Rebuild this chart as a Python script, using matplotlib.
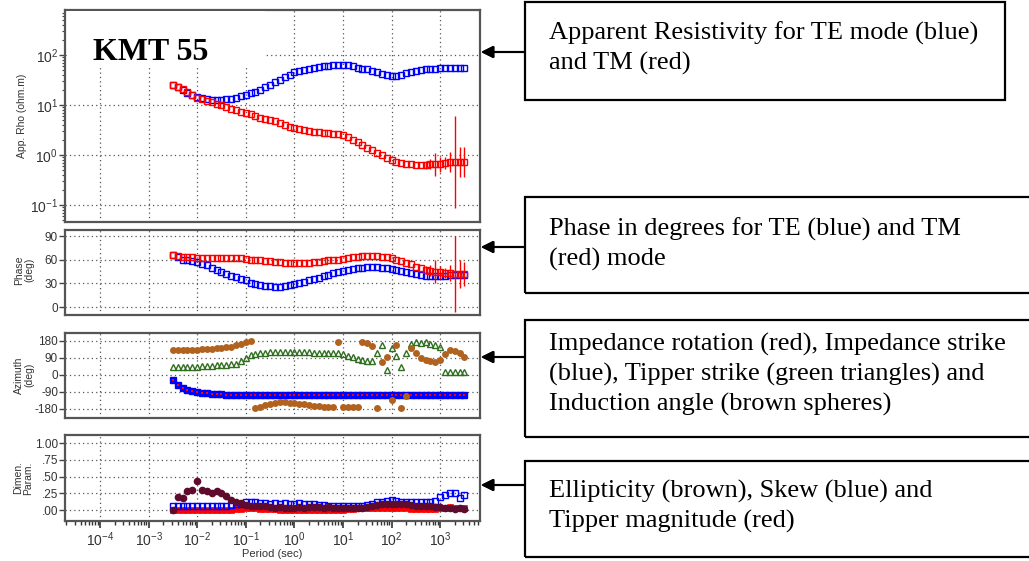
"""Magnetotelluric sounding KMT 55: rho, phase, azimuths and dimensionality parameters."""

import matplotlib.pyplot as plt
import numpy as np
from matplotlib.patches import Rectangle
from matplotlib.ticker import FixedLocator, FixedFormatter, LogLocator, NullFormatter

plt.rcParams["font.family"] = ["Liberation Sans", "DejaVu Sans"]
plt.rcParams["axes.unicode_minus"] = False

log_period = [
    -2.5, -2.4, -2.3, -2.2, -2.1, -2.0, -1.9, -1.8, -1.7, -1.6,
    -1.5, -1.4, -1.3, -1.2, -1.1, -1.0, -0.9, -0.8, -0.7, -0.6,
    -0.5, -0.4, -0.3, -0.2, -0.1, 0.0, 0.1, 0.2, 0.3, 0.4,
    0.5, 0.6, 0.7, 0.8, 0.9, 1.0, 1.1, 1.2, 1.3, 1.4,
    1.5, 1.6, 1.7, 1.8, 1.9, 2.0, 2.1, 2.2, 2.3, 2.4,
    2.5, 2.6, 2.7, 2.8, 2.9, 3.0, 3.1, 3.2, 3.3, 3.4, 3.5,
]
decades = [-4, -3, -2, -1, 0, 1, 2, 3]

rho_te = [
    25.1, 22.4, 19.5, 17.4, 15.8, 14.5, 13.8, 13.2, 12.6, 12.6,
    12.6, 12.9, 13.2, 13.8, 14.8, 15.8, 17.0, 18.6, 20.0, 22.4,
    25.1, 28.2, 31.6, 35.5, 40.7, 45.7, 47.9, 50.1, 52.5, 55.0,
    57.5, 58.9, 60.3, 61.7, 63.1, 63.1, 61.7, 58.9, 56.2, 53.7,
    51.3, 47.9, 44.7, 41.7, 39.8, 38.0, 38.9, 40.7, 42.7, 44.7,
    46.8, 49.0, 51.3, 52.5, 53.7, 55.0, 55.0, 55.0, 55.0, 55.0, 55.0,
]
rho_tm = [
    25.1, 22.9, 20.9, 18.6, 16.2, 14.1, 13.2, 12.3, 11.5, 10.7,
    10.0, 9.3, 8.5, 7.9, 7.4, 6.9, 6.5, 6.0, 5.6, 5.2,
    5.0, 4.7, 4.3, 4.0, 3.7, 3.5, 3.3, 3.2, 3.0, 2.95,
    2.9, 2.8, 2.75, 2.6, 2.6, 2.5, 2.3, 2.0, 1.8, 1.6,
    1.4, 1.26, 1.12, 1.0, 0.89, 0.79, 0.74, 0.69, 0.66, 0.65,
    0.63, 0.63, 0.63, 0.65, 0.66, 0.66, 0.68, 0.71, 0.72, 0.72, 0.72,
]
# TM error bars at the long periods (log10 half width of rho, degrees for phase)
err_log_period = [2.7, 2.8, 2.9, 3.0, 3.1, 3.2, 3.3, 3.4, 3.5]
rho_tm_err_dex = [0.08, 0.10, 0.23, 0.15, 0.12, 0.20, 0.92, 0.30, 0.30]
phase_tm_err = [5, 7, 15, 8, 6, 10, 48, 18, 15]

phase_te = [
    66, 63, 60, 59, 58, 57, 55, 53, 50, 47,
    44, 42, 40, 38, 36, 34, 31, 29, 28, 27,
    27, 26, 26, 27, 28, 29, 31, 32, 34, 36,
    37, 39, 41, 43, 45, 46, 47, 48, 49, 50,
    51, 51, 51, 50, 49, 48, 47, 46, 45, 43,
    42, 41, 40, 40, 40, 40, 40, 41, 41, 41, 41,
]
phase_tm = [
    66, 65, 64, 63, 63, 62, 62, 62, 62, 62,
    62, 62, 62, 62, 62, 61, 60, 59, 59, 58,
    58, 57, 57, 56, 56, 56, 56, 56, 56, 57,
    57, 58, 59, 60, 60, 61, 62, 63, 64, 65,
    65, 65, 65, 64, 63, 62, 60, 58, 56, 54,
    51, 49, 47, 46, 45, 44, 43, 43, 42, 42, 42,
]

imp_strike = [
    -26, -53, -69, -78, -84, -89, -93, -96, -99, -101,
    -103, -104, -105, -106, -106, -106, -106, -106, -106, -106,
    -106, -106, -106, -106, -106, -106, -106, -106, -106, -106,
    -106, -106, -106, -106, -106, -106, -106, -106, -106, -106,
    -106, -106, -106, -106, -106, -106, -106, -106, -106, -106,
    -106, -106, -106, -106, -106, -105, -105, -105, -105, -105, -105,
]
imp_rotation = [
    -26, -53, -69, -78, -84, -89, -93, -96, -99, -101,
    -103, -104, -105, -106, -106, -106, -106, -106, -106, -106,
    -106, -106, -106, -106, -106, -106, -106, -106, -106, -106,
    -106, -106, -106, -106, -106, -106, -106, -106, -106, -106,
    -106, -106, -106, -106, -106, -106, -106, -106, -106, -106,
    -106, -106, -106, -106, -106, -105, -105, -105, -105, -105, -105,
]
tipper_strike = [
    42, 42, 42, 43, 43, 44, 45, 46, 48, 50,
    52, 54, 56, 60, 75, 90, 104, 112, 114, 118,
    120, 121, 122, 122, 122, 122, 121, 120, 119, 118,
    117, 116, 116, 115, 114, 110, 102, 94, 86, 79,
    74, 72, 116, 159, 26, 143, 100, 42, 116, 165,
    172, 168, 172, 165, 160, 150, 16, 14, 16, 14, 14,
]
induction_angle = [
    132, 132, 132, 132, 133, 134, 135, 136, 138, 140,
    143, 146, 150, 158, 166, 172, 178, -176, -168, -160,
    -152, -146, -143, -144, -146, -148, -152, -156, -160, -164,
    -166, -168, -170, -170, 175, -170, -170, -171, -172, 175,
    168, 155, -175, 69, 95, -132, 159, -175, -111, 143,
    116, 90, 79, 72, 69, 79, 110, 132, 125, 116, 95,
]

ellipticity = [
    0.01, 0.19, 0.18, 0.28, 0.30, 0.43, 0.30, 0.28, 0.26, 0.28,
    0.26, 0.21, 0.16, 0.13, 0.11, 0.08, 0.07, 0.06, 0.07, 0.06,
    0.05, 0.04, 0.05, 0.04, 0.03, 0.04, 0.05, 0.04, 0.05, 0.05,
    0.05, 0.04, 0.05, 0.04, 0.04, 0.04, 0.03, 0.03, 0.04, 0.04,
    0.05, 0.07, 0.08, 0.09, 0.09, 0.10, 0.09, 0.10, 0.09, 0.08,
    0.07, 0.07, 0.06, 0.06, 0.05, 0.05, 0.04, 0.03, 0.02, 0.03, 0.02,
]
skew = [
    0.07, 0.07, 0.07, 0.07, 0.07, 0.07, 0.07, 0.07, 0.07, 0.07,
    0.07, 0.07, 0.08, 0.09, 0.10, 0.12, 0.13, 0.12, 0.11, 0.11,
    0.10, 0.11, 0.10, 0.11, 0.10, 0.10, 0.11, 0.10, 0.09, 0.09,
    0.08, 0.08, 0.07, 0.07, 0.06, 0.06, 0.06, 0.06, 0.07, 0.07,
    0.08, 0.10, 0.12, 0.13, 0.14, 0.15, 0.14, 0.13, 0.12, 0.12,
    0.12, 0.12, 0.13, 0.13, 0.14, 0.19, 0.23, 0.26, 0.25, 0.18, 0.22,
]
tipper_mag = [
    0.00, 0.00, 0.00, 0.00, 0.00, 0.00, 0.00, 0.00, 0.00, 0.00,
    0.00, 0.01, 0.01, 0.02, 0.02, 0.03, 0.03, 0.03, 0.02, 0.02,
    0.02, 0.02, 0.01, 0.01, 0.01, 0.01, 0.01, 0.01, 0.01, 0.01,
    0.01, 0.01, 0.01, 0.01, 0.01, 0.01, 0.02, 0.02, 0.03, 0.03,
    0.04, 0.04, 0.04, 0.04, 0.04, 0.04, 0.03, 0.03, 0.03, 0.02,
    0.02, 0.02, 0.02, 0.02, 0.02, 0.03, 0.04, 0.05, 0.03, 0.04, 0.04,
]

notes = [
    ["Apparent Resistivity for TE mode (blue)", "and TM (red)"],
    ["Phase in degrees for TE (blue) and TM", "(red) mode"],
    ["Impedance rotation (red), Impedance strike",
     "(blue), Tipper strike (green triangles) and",
     "Induction angle (brown spheres)"],
    ["Ellipticity (brown), Skew (blue) and", "Tipper magnitude (red)"],
]

# ---- layout (pixels of a 1029x561 canvas) ----
W, H = 1029, 561
BLUE, RED = "#0000ff", "#ff0000"
GREEN, BROWN, MAROON = "#2f6e1f", "#b0621e", "#5e0b2e"
GRID = dict(color="#555555", linestyle=(0, (1, 2.5)), linewidth=0.9)

fig = plt.figure(figsize=(W / 100, H / 100), dpi=100)


def px_axes(x0, y0, x1, y1):
    return fig.add_axes([x0 / W, 1 - y1 / H, (x1 - x0) / W, (y1 - y0) / H])


period = 10.0 ** np.array(log_period)
err_mask = np.isin(log_period, err_log_period)

ax1 = px_axes(65, 10, 480, 222)
ax2 = px_axes(65, 230, 480, 315)
ax3 = px_axes(65, 333, 480, 418)
ax4 = px_axes(65, 435, 480, 521)
axes = [ax1, ax2, ax3, ax4]

for ax in axes:
    ax.set_xscale("log")
    ax.set_xlim(10 ** -4.72, 10 ** 3.82)
    ax.xaxis.set_major_locator(FixedLocator(10.0 ** np.array(decades)))
    ax.xaxis.set_minor_locator(LogLocator(base=10, subs=np.arange(2, 10), numticks=20))
    ax.xaxis.set_minor_formatter(NullFormatter())
    ax.grid(True, which="major", **GRID)
    ax.set_axisbelow(True)
    for sp in ax.spines.values():
        sp.set_color("#555555")
        sp.set_linewidth(1.6)
    ax.tick_params(axis="y", which="major", direction="out", length=4, width=1,
                   color="#444444", labelsize=8.5, labelcolor="#333333", pad=1)
    ax.tick_params(axis="y", which="minor", direction="out", length=2, width=0.8,
                   color="#444444")
    if ax is not ax4:
        ax.tick_params(axis="x", which="both", length=0, labelbottom=False)

# panel 1: apparent resistivity
ax1.set_yscale("log")
ax1.set_ylim(10 ** -1.34, 10 ** 2.9)
ax1.yaxis.set_major_locator(LogLocator(base=10, numticks=10))
ax1.yaxis.set_minor_locator(LogLocator(base=10, subs=np.arange(2, 10), numticks=10))
ax1.yaxis.set_minor_formatter(NullFormatter())
ax1.tick_params(axis="y", which="major", labelsize=10)
ax1.plot(period, rho_te, ls="none", marker="s", ms=4, mfc="none", mec=BLUE, mew=1)
rho_c = np.array(rho_tm)[err_mask]
dex = np.array(rho_tm_err_dex)
ax1.errorbar(period[err_mask], rho_c,
             yerr=[rho_c - rho_c * 10 ** -dex, rho_c * 10 ** dex - rho_c],
             fmt="none", ecolor=RED, elinewidth=1, capsize=0)
ax1.plot(period, rho_tm, ls="none", marker="s", ms=4, mfc="none", mec=RED, mew=1)

ax1.add_patch(Rectangle((0.005, 0.726), 0.477, 0.27, transform=ax1.transAxes,
                        facecolor="white", edgecolor="none", zorder=5))
ax1.text(0.067, 0.764, "KMT 55", transform=ax1.transAxes, fontsize=23,
         fontweight="bold", family="Liberation Serif", va="baseline", zorder=6)

# panel 2: phase
ax2.set_ylim(-10, 97.6)
ax2.yaxis.set_major_locator(FixedLocator([0, 30, 60, 90]))
ax2.plot(period, phase_te, ls="none", marker="s", ms=4, mfc="none", mec=BLUE, mew=1)
ax2.errorbar(period[err_mask], np.array(phase_tm)[err_mask], yerr=phase_tm_err,
             fmt="none", ecolor=RED, elinewidth=1, capsize=0)
ax2.plot(period, phase_tm, ls="none", marker="s", ms=4, mfc="none", mec=RED, mew=1)

# panel 3: azimuths
ax3.set_ylim(-228, 222)
ax3.yaxis.set_major_locator(FixedLocator([-180, -90, 0, 90, 180]))
ax3.plot(period, imp_strike, ls="none", marker="s", ms=4.5, mfc=BLUE, mec=BLUE, mew=1)
ax3.plot(period, imp_rotation, ls="none", marker="s", ms=2, mfc=RED, mec=RED, mew=0)
ax3.plot(period, tipper_strike, ls="none", marker="^", ms=5, mfc="none", mec=GREEN, mew=1)
ax3.plot(period, induction_angle, ls="none", marker="o", ms=5, mfc=BROWN, mec=BROWN, mew=0)

# panel 4: dimensionality parameters
ax4.set_ylim(-0.16, 1.12)
ax4.yaxis.set_major_locator(FixedLocator([0, 0.25, 0.5, 0.75, 1.0]))
ax4.yaxis.set_major_formatter(FixedFormatter([".00", ".25", ".50", ".75", "1.00"]))
ax4.plot(period, tipper_mag, ls="none", marker="s", ms=4.5, mfc=RED, mec=RED, mew=0.5)
ax4.plot(period, skew, ls="none", marker="s", ms=4.5, mfc="none", mec=BLUE, mew=1)
ax4.plot(period, ellipticity, ls="none", marker="o", ms=5.5, mfc=MAROON, mec=MAROON, mew=0)
ax4.tick_params(axis="x", which="major", direction="out", length=5, width=1.2,
                color="#333333", labelsize=10, labelcolor="#333333", pad=2)
ax4.tick_params(axis="x", which="minor", direction="out", length=3, width=1,
                color="#333333")
ax4.set_xlabel("Period (sec)", fontsize=8, color="#333333", labelpad=0)

# y axis titles
ylabels = [("App. Rho (ohm.m)", 22, 116), ("Phase\n(deg)", 24, 270),
           ("Azimuth\n(deg)", 24, 375), ("Dimen.\nParam.", 23, 478)]
for txt, x, y in ylabels:
    fig.text(x / W, 1 - y / H, txt, rotation=90, ha="center", va="center",
             fontsize=7.5, color="#333333", linespacing=1.0)

# explanatory boxes with arrows
boxes = [(525, 2, 1005, 100), (525, 197, 1035, 293),
         (525, 320, 1035, 437), (525, 461, 1035, 557)]
first_baselines = [40, 236, 351, 498]
arrow_y = [52, 247, 357, 485]
for (x0, y0, x1, y1), lines, yb, ya in zip(boxes, notes, first_baselines, arrow_y):
    fig.add_artist(Rectangle((x0 / W, 1 - y1 / H), (x1 - x0) / W, (y1 - y0) / H,
                             transform=fig.transFigure, fill=False,
                             edgecolor="black", linewidth=1.6))
    for k, line in enumerate(lines):
        fig.text(549 / W, 1 - (yb + 29.8 * k) / H, line, fontsize=19,
                 family="Liberation Serif", va="baseline", ha="left")
    fig.add_artist(plt.annotate(
        "", xy=(481 / W, 1 - ya / H), xytext=(x0 / W, 1 - ya / H),
        xycoords="figure fraction", textcoords="figure fraction",
        arrowprops=dict(arrowstyle="-|>", color="black", lw=1.5,
                        mutation_scale=18, shrinkA=0, shrinkB=0)))

fig.savefig("out.png", dpi=100)
